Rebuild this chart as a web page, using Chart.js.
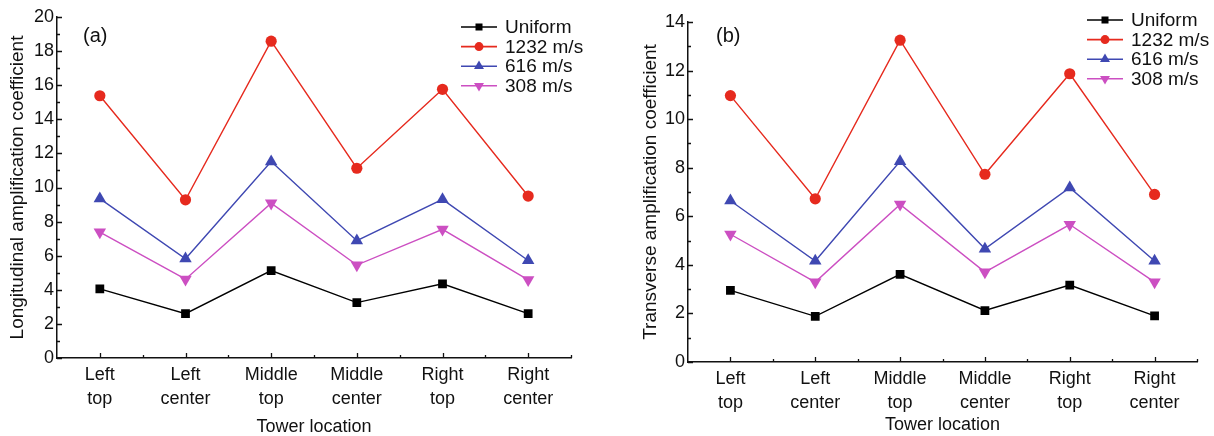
<!DOCTYPE html>
<html lang="en">
<head>
  <meta charset="UTF-8" />
  <title>Tower amplification coefficient</title>
  <script src="https://cdn.jsdelivr.net/npm/chart.js@4.4.1"></script>
  <style>
    html, body { margin:0; padding:0; background:#fff; }
    .wrap { position:relative; width:1214px; height:436px; }
    canvas { position:absolute; top:0; }
  </style>
</head>
<body>
<div class="wrap">
  <canvas id="chartA" width="607" height="436" style="left:0"></canvas>
  <canvas id="chartB" width="607" height="436" style="left:607px"></canvas>
</div>

<script>
  // tower positions (x axis)
  var towers = [['Left','top'],['Left','center'],['Middle','top'],['Middle','center'],['Right','top'],['Right','center']];
  var seriesNames = ['Uniform','1232 m/s','616 m/s','308 m/s'];

  // (a) longitudinal
  var uniformLong = [4.05, 2.6, 5.13, 3.25, 4.35, 2.6];
  var v1232Long   = [15.38, 9.28, 18.58, 11.13, 15.76, 9.5];
  var v616Long    = [9.35, 5.82, 11.52, 6.88, 9.3, 5.72];
  var v308Long    = [7.38, 4.62, 9.08, 5.45, 7.55, 4.58];

  // (b) transverse
  var uniformTrans = [2.95, 1.88, 3.61, 2.12, 3.17, 1.9];
  var v1232Trans   = [10.97, 6.72, 13.25, 7.73, 11.87, 6.9];
  var v616Trans    = [6.64, 4.16, 8.26, 4.66, 7.18, 4.16];
  var v308Trans    = [5.26, 3.29, 6.49, 3.7, 5.66, 3.29];

  var COLORS = ['#000000','#e62a1e','#3f48b2','#cc4fc2'];
  var STYLES = ['rect','circle','triangle','triangle'];
  var ROT    = [0,0,0,180];
  var RAD    = [6.2,5.6,7.2,7.2];
  var FONT   = "'Liberation Sans', Arial, sans-serif";

  Chart.defaults.font.family = FONT;
  Chart.defaults.color = '#111';

  function makeSets(lists){
    return lists.map(function(d,i){
      return {
        label: seriesNames[i], data: d,
        borderColor: COLORS[i], backgroundColor: COLORS[i],
        borderWidth: 1.4, pointStyle: STYLES[i], pointRotation: ROT[i],
        pointRadius: RAD[i], pointBorderWidth: 0, tension: 0
      };
    });
  }

  // inward tick marks, panel tag and line+marker legend
  var decor = {
    id: 'decor',
    afterDraw: function(chart, args, o){
      var ctx = chart.ctx, xs = chart.scales.x, ys = chart.scales.y;
      var ca = chart.chartArea;
      ctx.save();
      ctx.strokeStyle = '#111';
      ctx.lineWidth = 1.3;
      ctx.beginPath();
      var step = ys.options.ticks.stepSize;
      for (var v = ys.min; v <= ys.max + 1e-9; v += step/2){
        var y = Math.round(ys.getPixelForValue(v)) + 0.5;
        var len = (Math.round(v/step*2) % 2 === 0) ? 5 : 3;
        ctx.moveTo(ca.left, y); ctx.lineTo(ca.left + len, y);
      }
      var n = chart.data.labels.length;
      for (var i = 0; i < n; i++){
        var x = Math.round(xs.getPixelForValue(i)) + 0.5;
        ctx.moveTo(x, ca.bottom); ctx.lineTo(x, ca.bottom - 5);
      }
      for (var j = 1; j <= n; j++){
        var xb = Math.round(xs.getPixelForValue(j - 0.5)) + 0.5;
        ctx.moveTo(xb, ca.bottom); ctx.lineTo(xb, ca.bottom - 3);
      }
      ctx.stroke();

      // panel tag
      ctx.fillStyle = '#111';
      ctx.font = '20px ' + FONT;
      ctx.textBaseline = 'middle';
      ctx.textAlign = 'left';
      ctx.fillText(o.tag, o.tagX, o.tagY);

      // legend
      ctx.font = '19px ' + FONT;
      chart.data.datasets.forEach(function(ds, k){
        var y = o.legY + k * o.legGap;
        var x0 = ca.right - 110;
        ctx.strokeStyle = ds.borderColor;
        ctx.lineWidth = 1.6;
        ctx.beginPath(); ctx.moveTo(x0, y); ctx.lineTo(x0 + 36, y); ctx.stroke();
        ctx.fillStyle = ds.backgroundColor;
        Chart.helpers.drawPoint(ctx, {pointStyle: ds.pointStyle, rotation: ds.pointRotation,
          radius: ds.pointRadius * 0.8, borderWidth: 0}, x0 + 18, y);
        ctx.fillStyle = '#111';
        ctx.fillText(ds.label, x0 + 44, y + 1);
      });
      ctx.restore();
    }
  };

  function makeChart(id, lists, yTitle, yMax, cfg){
    return new Chart(document.getElementById(id), {
      type: 'line',
      data: { labels: towers, datasets: makeSets(lists) },
      plugins: [decor],
      options: {
        responsive: false, animation: false, devicePixelRatio: 1,
        layout: { padding: { top: cfg.top, right: cfg.right, left: 0, bottom: 0 } },
        plugins: {
          legend: { display: false }, tooltip: { enabled: false },
          decor: { tag: cfg.tag, tagX: cfg.tagX, tagY: 36, legY: cfg.legY, legGap: 19.6 }
        },
        scales: {
          x: {
            type: 'category', offset: true,
            grid: { display: false, drawTicks: false },
            border: { display: true, color: '#111', width: 1.5 },
            ticks: { padding: 6, maxRotation: 0, autoSkip: false, color: '#111',
                     font: { size: 18, lineHeight: 1.28 } },
            title: { display: true, text: 'Tower location', color: '#111',
                     font: { size: 18, lineHeight: 1 }, padding: { top: 0, bottom: cfg.xTitlePad } },
            afterFit: function(s){ s.height = cfg.xH; }
          },
          y: {
            min: 0, max: yMax,
            grid: { display: false, drawTicks: false },
            border: { display: true, color: '#111', width: 1.5 },
            ticks: { stepSize: 2, padding: 3, color: '#111', font: { size: 18 } },
            title: { display: true, text: yTitle, color: '#111',
                     font: { size: 19, lineHeight: 1.2 }, padding: { top: cfg.yTitlePad, bottom: 0 } },
            afterFit: function(s){ s.width = cfg.yW; }
          }
        }
      }
    });
  }

  makeChart('chartA', [uniformLong, v1232Long, v616Long, v308Long],
    'Longitudinal amplification coefficient', 20,
    { top: 17, right: 36, yW: 57, xH: 78, tag: '(a)', tagX: 83, legY: 27, xTitlePad: 0, yTitlePad: 6 });

  makeChart('chartB', [uniformTrans, v1232Trans, v616Trans, v308Trans],
    'Transverse amplification coefficient', 14,
    { top: 22, right: 17, yW: 81, xH: 74, tag: '(b)', tagX: 109, legY: 20, xTitlePad: 2, yTitlePad: 32 });
</script>
</body>
</html>
